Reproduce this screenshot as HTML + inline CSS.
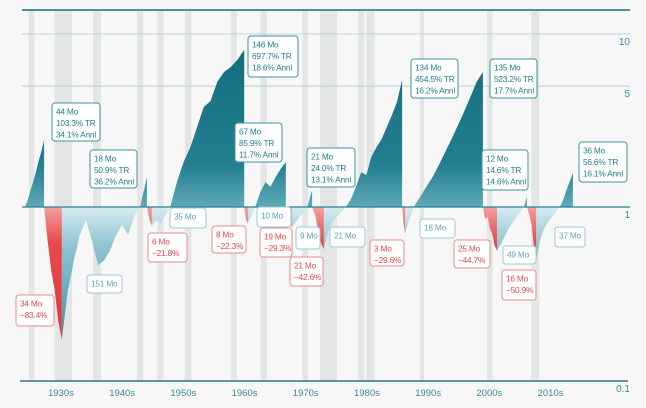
<!DOCTYPE html>
<html><head><meta charset="utf-8">
<style>
html,body{margin:0;padding:0;background:#f6f7f6;}
svg{display:block;font-family:"Liberation Sans",sans-serif;}
</style></head>
<body>
<svg id="chart" width="646" height="408" viewBox="0 0 646 408" xmlns="http://www.w3.org/2000/svg">
<defs>
<linearGradient id="gBull" gradientUnits="userSpaceOnUse" x1="0" y1="40" x2="0" y2="207"><stop offset="0" stop-color="#136c7e"/><stop offset="0.75" stop-color="#237f90"/><stop offset="1" stop-color="#5fa9b8"/></linearGradient>
<linearGradient id="gRed" gradientUnits="userSpaceOnUse" x1="0" y1="207" x2="0" y2="345"><stop offset="0" stop-color="#f0a0a0"/><stop offset="0.25" stop-color="#e84a4c"/><stop offset="1" stop-color="#d93a3e"/></linearGradient>
<linearGradient id="gBlue" gradientUnits="userSpaceOnUse" x1="0" y1="207" x2="0" y2="345"><stop offset="0" stop-color="#d6eaf0"/><stop offset="0.3" stop-color="#8cc2d0"/><stop offset="1" stop-color="#3f8ea2"/></linearGradient>
</defs>
<g id="bands"></g>
<g id="grid"></g>
<g id="areas"></g>
<g id="axes"></g>
<g id="notes"></g>
</svg>
<script>
// ---- data ----
const bullStarts = [1924.8, 1943.6, 1948.5, 1962.4, 1970.9, 1977.2, 1988.3, 2006.3, 2012.2];
const bullEnds   = [1927.9, 1944.7, 1960.6, 1967.4, 1971.7, 1986.4, 1999.6, 2006.8, 2014.3];
const bullValues = [
 [1,1.1,1.25,1.4,1.6,1.85,2.1,2.44],
 [1,1.15,1.3,1.49],
 [1,1.39,1.82,2.22,2.9,3.79,4.1,5.3,6.03,6.44,7.1,8.09],
 [1,1.22,1.39,1.31,1.49,1.66,1.82],
 [1,1.12,1.25],
 [1,1.11,1.31,1.59,1.53,1.95,2.22,2.47,2.9,3.4,4.05,5.43],
 [1,1.14,1.31,1.49,1.75,2.08,2.47,2.95,3.54,4.32,5.28,6.03],
 [1,1.07,1.14],
 [1,1.1,1.25,1.4,1.57]
];
const bearStarts = [1927.9, 1944.7, 1960.6, 1967.4, 1971.7, 1986.4, 1999.6, 2006.8];
const bearEnds   = [1930.8, 1945.5, 1961.2, 1968.4, 1973.6, 1986.9, 2001.9, 2008.3];
const bearValues = [
 [1,0.64,0.43,0.33,0.22,0.17],
 [1,0.85,0.78],
 [1,0.85,0.8],
 [1,0.85,0.76],
 [1,0.9,0.75,0.62,0.57],
 [1,0.8,0.7],
 [1,0.85,0.88,0.75,0.7,0.6,0.56],
 [1,0.9,0.8,0.6,0.49]
];
const recovStarts = [1930.8, 1945.5, 1961.2, 1968.4, 1973.6, 1986.9, 2001.9, 2008.3];
const recovEnds   = [1943.6, 1948.5, 1962.4, 1970.9, 1977.2, 1988.3, 2006.3, 2012.2];
const recovValues = [
 [0.17,0.33,0.49,0.69,0.84,0.64,0.46,0.49,0.56,0.69,0.79,0.69,0.88,1],
 [0.78,0.84,0.8,0.9,1],
 [0.8,0.9,1],
 [0.76,0.82,0.88,0.94,1],
 [0.57,0.7,0.8,0.86,0.9,0.95,1],
 [0.7,0.8,0.9,1],
 [0.56,0.62,0.7,0.78,0.85,0.92,1],
 [0.49,0.65,0.75,0.82,0.88,0.94,1]
];
const recessionStarts = [1925.4,1929.6,1935.9,1943.1,1946.4,1950.9,1958.4,1963.3,1970.1,1973.0,1974.3,1979.2,1980.6,1989.3,2000.3,2007.5];
const recessionEnds   = [1926.3,1932.5,1937.2,1944.1,1947.4,1952.0,1959.4,1964.3,1971.0,1974.5,1975.8,1980.2,1981.9,1990.0,2001.2,2008.8];
const decadeLabels = ["1930s","1940s","1950s","1960s","1970s","1980s","1990s","2000s","2010s"];
const decadeYears = [1930,1940,1950,1960,1970,1980,1990,2000,2010];
const yTickValues = [10,5,1,0.1];
const yTickLabels = ["10","5","1","0.1"];

// ---- scales ----
function x(yr){ return 60 + (yr-1930.5)*6.12; }
function y(v){ return 207 - 173*Math.log10(v); }
const NS="http://www.w3.org/2000/svg";
function mk(tag, attrs, parent){ const e=document.createElementNS(NS,tag); for(const k in attrs) e.setAttribute(k,attrs[k]); parent.appendChild(e); return e; }

const bands=document.getElementById('bands');
recessionStarts.forEach((s,i)=>{
  const r=mk('rect',{x:x(s),y:10,width:x(recessionEnds[i])-x(s),height:371,fill:'#e4e6e5'},bands);
  
  
});

const grid=document.getElementById('grid');
[[10,'#1d6f80',1.5],[y(10),'#a9cdd6',0.8],[y(5),'#a9cdd6',0.8]].forEach(g=>{
  const l=mk('line',{x1:22,x2:630,y1:g[0],y2:g[0],stroke:g[1],'stroke-width':g[2]},grid);
  
  
});

const areas=document.getElementById('areas');
function area(starts,ends,vals,fill,name){
  vals.forEach((arr,i)=>{
    const s=starts[i], e=ends[i], n=arr.length;
    let d='M'+x(s)+','+y(1);
    arr.forEach((v,j)=>{ const yr=s+(e-s)*j/(n-1); d+=' L'+x(yr).toFixed(1)+','+y(v).toFixed(1); });
    d+=' L'+x(e)+','+y(1)+' Z';
    const p=mk('path',{d:d,fill:fill},areas);
    
    
  });
}
area(recovStarts,recovEnds,recovValues,'url(#gBlue)','recovery-area');
area(bearStarts,bearEnds,bearValues,'url(#gRed)','bear-area');
area(bullStarts,bullEnds,bullValues,'url(#gBull)','bull-area');

const axes=document.getElementById('axes');
let bl=mk('line',{x1:22,x2:630,y1:207,y2:207,stroke:'#2b8294','stroke-width':1.2},axes);


let xa=mk('line',{x1:20,x2:628,y1:381,y2:381,stroke:'#2b7686','stroke-width':1.5},axes);


decadeLabels.forEach((t,i)=>{
  const tx=mk('text',{x:x(decadeYears[i])+4,y:396,'font-size':9.5,fill:'#3b8a9c','text-anchor':'middle'},axes);
  tx.textContent=t;
  
  
});
yTickValues.forEach((v,i)=>{
  let yy = v===0.1 ? 381 : y(v);
  const tx=mk('text',{x:630,y:yy+11,'font-size':10,fill:'#3b8a9c','text-anchor':'end'},axes);
  tx.textContent=yTickLabels[i];
  
  
});

// ---- annotations ----
const notes=document.getElementById('notes');
const noteBoxes = [
 [52,103,48,38,'b',["44 Mo","103.3% TR","34.1% Annl"]],
 [90,150,47,38,'b',["18 Mo","50.9% TR","36.2% Annl"]],
 [248,36,50,41,'b',["146 Mo","697.7% TR","18.6% Annl"]],
 [235,123,47,39,'b',["67 Mo","85.9% TR","11.7% Annl"]],
 [307,148,48,39,'b',["21 Mo","24.0% TR","13.1% Annl"]],
 [411,59,47,39,'b',["134 Mo","454.5% TR","16.2% Annl"]],
 [490,59,47,39,'b',["135 Mo","523.2% TR","17.7% Annl"]],
 [482,150,46,40,'b',["12 Mo","14.6% TR","14.6% Annl"]],
 [579,142,48,40,'b',["36 Mo","56.6% TR","16.1% Annl"]],
 [16,295,38,31,'r',["34 Mo","\u221283.4%"]],
 [148,233,39,29,'r',["6 Mo","\u221221.8%"]],
 [212,226,34,27,'r',["8 Mo","\u221222.3%"]],
 [260,228,32,29,'r',["19 Mo","\u221229.3%"]],
 [290,257,33,29,'r',["21 Mo","\u221242.6%"]],
 [370,240,34,26,'r',["3 Mo","\u221229.6%"]],
 [454,240,36,28,'r',["25 Mo","\u221244.7%"]],
 [502,270,34,30,'r',["16 Mo","\u221250.9%"]],
 [87,275,35,18,'l',["151 Mo"]],
 [170,208,36,20,'l',["35 Mo"]],
 [257,207,34,20,'l',["10 Mo"]],
 [296,227,24,22,'l',["9 Mo"]],
 [330,227,35,20,'l',["21 Mo"]],
 [420,219,35,19,'l',["18 Mo"]],
 [503,246,33,18,'l',["49 Mo"]],
 [555,227,30,20,'l',["37 Mo"]]
];
const styles={b:['#3a93a6','#1f7d90'],r:['#ec8a8c','#e0484c'],l:['#9cc9d5','#5aa3b6']};
noteBoxes.forEach(n=>{
  const [bx,by,w,h,k,lines]=n;
  const g=mk('g',{},notes);
  
  
  mk('rect',{x:bx,y:by,width:w,height:h,rx:3,fill:'#ffffff',stroke:styles[k][0],'stroke-width':1},g);
  lines.forEach((t,i)=>{
    const tx=mk('text',{x:bx+4,y:by+11.5+i*11.5,'font-size':8.3,'letter-spacing':'-0.2',fill:styles[k][1]},g);
    tx.textContent=t;
  });
});
</script>
</body></html>
